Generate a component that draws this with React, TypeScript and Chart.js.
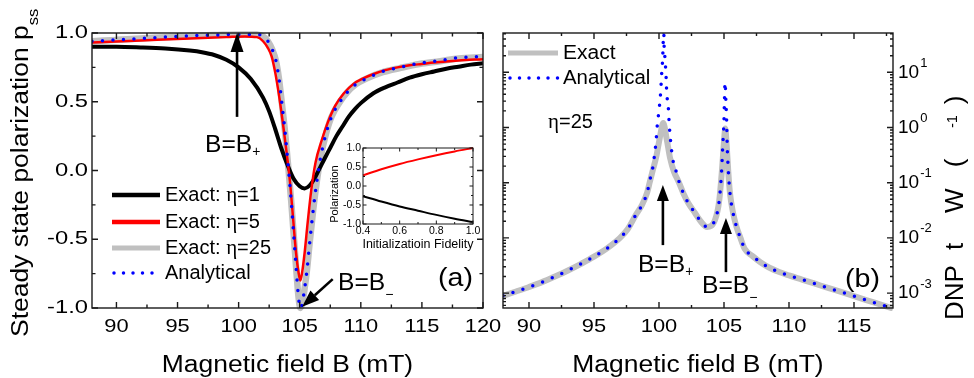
import React, { useEffect, useRef } from 'react';
import { Chart, registerables } from 'chart.js';
Chart.register(...registerables);

const SANS = '"Liberation Sans", Arial, Helvetica, sans-serif';
const SERIF = '"Liberation Serif", "Times New Roman", serif';
const W = 974;
const H = 378;

// ---------------- Panel (a) ----------------
const aXTicks = [90, 95, 100, 105, 110, 115, 120];
const aXMinor = [92.5, 97.5, 102.5, 107.5, 112.5, 117.5];
const aYTicks = [-1, -0.5, 0, 0.5, 1];
const aYTickLabels = ['-1.0', '-0.5', '0.0', '0.5', '1.0'];
const aYMinor = [-0.75, -0.25, 0.25, 0.75];

const eta1B = [88, 90, 92, 94, 96, 97, 98, 99, 100, 101, 102, 102.5, 103, 103.5, 104, 104.5, 105, 105.4, 105.8, 106.2, 106.6, 107, 107.5, 108, 108.5, 109, 109.5, 110, 111, 112, 113, 114, 115, 116, 117, 118, 119, 120];
const eta1P = [0.90, 0.90, 0.895, 0.887, 0.872, 0.86, 0.84, 0.805, 0.75, 0.665, 0.53, 0.43, 0.30, 0.16, 0.04, -0.06, -0.115, -0.13, -0.11, -0.06, 0.01, 0.08, 0.165, 0.25, 0.32, 0.39, 0.445, 0.49, 0.56, 0.605, 0.64, 0.675, 0.70, 0.72, 0.74, 0.755, 0.77, 0.78];

const eta5B = [88, 92, 96, 99, 100.5, 101.5, 102, 102.4, 102.7, 103, 103.3, 103.6, 103.9, 104.2, 104.45, 104.7, 104.9, 105.05, 105.2, 105.4, 105.65, 105.95, 106.3, 106.8, 107.3, 107.9, 108.6, 109.4, 110.2, 111, 112, 113, 114, 115, 116, 118, 120];
const eta5P = [0.93, 0.945, 0.96, 0.97, 0.975, 0.97, 0.94, 0.89, 0.83, 0.71, 0.55, 0.36, 0.15, -0.08, -0.34, -0.6, -0.74, -0.80, -0.74, -0.6, -0.38, -0.14, 0.06, 0.22, 0.35, 0.47, 0.56, 0.63, 0.67, 0.70, 0.73, 0.75, 0.765, 0.775, 0.785, 0.80, 0.81];

const eta25B = [88, 90, 92, 94, 96, 98, 100, 101.5, 102, 102.4, 102.75, 103.05, 103.3, 103.55, 103.8, 104.05, 104.3, 104.5, 104.7, 104.9, 105.05, 105.2, 105.4, 105.6, 105.8, 106.1, 106.4, 106.7, 107.1, 107.6, 108.3, 108.9, 109.5, 110.5, 111.8, 113.2, 114.8, 116.5, 118, 120];
const eta25P = [0.94, 0.95, 0.96, 0.97, 0.98, 0.985, 0.99, 0.99, 0.975, 0.94, 0.88, 0.80, 0.67, 0.48, 0.28, 0.04, -0.22, -0.46, -0.70, -0.92, -1.0, -0.97, -0.86, -0.72, -0.54, -0.29, -0.08, 0.09, 0.25, 0.39, 0.50, 0.57, 0.62, 0.67, 0.715, 0.745, 0.775, 0.795, 0.815, 0.825];

const anaAB = [88, 90, 92, 94, 96, 98, 100, 101.5, 102, 102.4, 102.75, 103.05, 103.3, 103.55, 103.8, 104.05, 104.3, 104.5, 104.7, 104.9, 105.05, 105.2, 105.4, 105.6, 105.8, 106.1, 106.4, 106.7, 107.1, 107.6, 108.3, 108.9, 109.5, 110.5, 111.8, 113.2, 114.8, 116.5, 118, 120];
const anaAP = [0.94, 0.95, 0.96, 0.97, 0.98, 0.985, 0.99, 0.99, 0.975, 0.94, 0.88, 0.80, 0.67, 0.48, 0.28, 0.04, -0.22, -0.46, -0.70, -0.92, -1.0, -0.97, -0.86, -0.72, -0.54, -0.29, -0.08, 0.09, 0.25, 0.39, 0.50, 0.57, 0.62, 0.67, 0.72, 0.75, 0.78, 0.80, 0.82, 0.83];

// inset of panel (a)
const insetF = [0.4, 0.5, 0.6, 0.7, 0.8, 0.9, 1.0];
const insetUp = [0.28, 0.44, 0.58, 0.70, 0.81, 0.91, 1.0];
const insetDown = [-0.27, -0.41, -0.54, -0.65, -0.76, -0.86, -0.95];
const insetXTicks = [0.4, 0.6, 0.8, 1.0];
const insetXLabels = ['0.4', '0.6', '0.8', '1.0'];
const insetXMinor = [0.5, 0.7, 0.9];
const insetYTicks = [-1, -0.5, 0, 0.5, 1];
const insetYLabels = ['-1.0', '-0.5', '0.0', '0.5', '1.0'];
const insetYMinor = [-0.75, -0.25, 0.25, 0.75];

// ---------------- Panel (b) ----------------
const bXTicks = [90, 95, 100, 105, 110, 115];
const bXMinor = [92.5, 97.5, 102.5, 107.5, 112.5, 117.5];
const bYTicks = [0.001, 0.01, 0.1, 1, 10];
const bYExp = ['-3', '-2', '-1', '0', '1'];
const bDecades = [-4, -3, -2, -1, 0, 1];

const exactBB = [88, 89, 90, 91, 92, 93, 94, 95, 96, 97, 97.6, 98.2, 98.7, 99.1, 99.3, 99.55, 99.8, 100.05, 100.33, 100.6, 100.85, 101.15, 101.5, 101.87, 102.25, 102.77, 103.2, 103.7, 104.3, 104.64, 104.85, 105.0, 105.1, 105.2, 105.33, 105.46, 105.7, 105.95, 106.25, 106.6, 107.2, 107.8, 108.5, 109.2, 110, 111, 112, 113, 114, 115, 116, 117, 118];
const exactBW = [8.91e-4, 1.07e-3, 1.29e-3, 1.58e-3, 2.0e-3, 2.57e-3, 3.39e-3, 4.57e-3, 6.46e-3, 0.01, 0.0145, 0.0257, 0.0398, 0.0676, 0.105, 0.178, 0.302, 0.631, 1.2, 0.603, 0.282, 0.158, 0.105, 0.0646, 0.0427, 0.0282, 0.02, 0.0158, 0.0209, 0.049, 0.178, 0.562, 0.955, 0.501, 0.158, 0.0646, 0.0282, 0.0162, 0.0102, 0.0063, 0.00468, 0.00363, 0.00288, 0.00243, 0.00209, 0.00176, 0.00148, 0.00124, 0.00105, 8.81e-4, 7.41e-4, 6.24e-4, 5.25e-4];

const anaBB = [88, 89, 90, 91, 92, 93, 94, 95, 96, 97, 97.6, 98.2, 98.7, 99.1, 99.3, 99.51, 99.62, 99.77, 99.87, 100.02, 100.13, 100.2, 100.28, 100.33, 100.36, 100.38, 100.46, 100.54, 100.59, 100.72, 100.79, 100.9, 101.05, 101.36, 101.5, 101.87, 102.25, 102.77, 103.2, 103.7, 104.3, 104.64, 104.82, 104.9, 105.0, 105.03, 105.08, 105.15, 105.2, 105.25, 105.33, 105.46, 105.7, 105.95, 106.25, 106.6, 107.2, 107.8, 108.5, 109.2, 110, 111, 112, 113, 114, 115, 116, 117, 118];
const anaBW = [8.91e-4, 1.07e-3, 1.29e-3, 1.58e-3, 2.0e-3, 2.57e-3, 3.39e-3, 4.57e-3, 6.46e-3, 0.01, 0.0145, 0.0257, 0.0398, 0.0676, 0.112, 0.182, 0.275, 0.55, 1.12, 2.24, 4.47, 8.9, 17.8, 41.7, 120, 41.7, 17.8, 8.9, 4.47, 2.24, 1.12, 0.55, 0.275, 0.148, 0.112, 0.0646, 0.0427, 0.0282, 0.02, 0.0158, 0.0209, 0.049, 0.17, 0.447, 1.38, 2.75, 6.5, 2.75, 1.38, 0.447, 0.17, 0.0646, 0.0282, 0.0162, 0.0102, 0.0063, 0.00468, 0.00363, 0.00288, 0.00243, 0.00209, 0.00176, 0.00148, 0.00124, 0.00105, 8.81e-4, 7.41e-4, 6.24e-4, 5.25e-4];

// ---------------- helpers ----------------
const pts = (xs: number[], ys: number[]) => xs.map((x, i) => ({ x, y: ys[i] }));

const BLUE = '#0000ff';
const GRAY = '#c0c0c0';
const RED = '#ff0000';
const dotted = {
  borderColor: BLUE,
  borderWidth: 3.5,
  borderDash: [0, 10.5],
  borderCapStyle: 'round' as const,
};

type Run = { t: string; size: number; font?: string; dy?: number; sx?: number; gap?: number };

function drawRuns(
  ctx: CanvasRenderingContext2D,
  items: Run[],
  x: number,
  y: number,
  align: 'left' | 'center' | 'right' = 'left',
  baseline: CanvasTextBaseline = 'alphabetic',
  rot = 0,
) {
  ctx.save();
  ctx.translate(x, y);
  if (rot) ctx.rotate(rot);
  ctx.textBaseline = baseline;
  ctx.textAlign = 'left';
  ctx.fillStyle = '#000';
  const widths = items.map((it) => {
    ctx.font = `${it.size}px ${it.font || SANS}`;
    return ctx.measureText(it.t).width * (it.sx ?? 1) + (it.gap || 0);
  });
  const total = widths.reduce((a, b) => a + b, 0);
  let cx = align === 'left' ? 0 : align === 'center' ? -total / 2 : -total;
  items.forEach((it, i) => {
    ctx.save();
    ctx.translate(cx, it.dy || 0);
    ctx.scale(it.sx ?? 1, 1);
    ctx.font = `${it.size}px ${it.font || SANS}`;
    ctx.fillText(it.t, 0, 0);
    ctx.restore();
    cx += widths[i];
  });
  ctx.restore();
}

function arrow(ctx: CanvasRenderingContext2D, x1: number, y1: number, x2: number, y2: number, headLen: number, headW: number, lw: number) {
  const ang = Math.atan2(y2 - y1, x2 - x1);
  const bx = x2 - headLen * Math.cos(ang);
  const by = y2 - headLen * Math.sin(ang);
  ctx.save();
  ctx.strokeStyle = '#000';
  ctx.fillStyle = '#000';
  ctx.lineWidth = lw;
  ctx.beginPath();
  ctx.moveTo(x1, y1);
  ctx.lineTo(bx, by);
  ctx.stroke();
  ctx.beginPath();
  ctx.moveTo(x2, y2);
  ctx.lineTo(bx + (headW / 2) * Math.sin(ang), by - (headW / 2) * Math.cos(ang));
  ctx.lineTo(bx - (headW / 2) * Math.sin(ang), by + (headW / 2) * Math.cos(ang));
  ctx.closePath();
  ctx.fill();
  ctx.restore();
}

function frame(chart: any, xMaj: number[], xMin: number[], yMaj: number[], yMin: number[], majLen: number, minLen: number, lw: number) {
  const { ctx, chartArea: ca, scales } = chart;
  const sx = scales.x;
  const sy = scales.y;
  ctx.save();
  ctx.strokeStyle = '#1a1a1a';
  ctx.lineWidth = lw;
  ctx.beginPath();
  const xs: [number[], number][] = [[xMaj, majLen], [xMin, minLen]];
  xs.forEach(([vals, len]) => {
    vals.forEach((v) => {
      const p = sx.getPixelForValue(v);
      ctx.moveTo(p, ca.bottom);
      ctx.lineTo(p, ca.bottom - len);
      ctx.moveTo(p, ca.top);
      ctx.lineTo(p, ca.top + len);
    });
  });
  const ys: [number[], number][] = [[yMaj, majLen], [yMin, minLen]];
  ys.forEach(([vals, len]) => {
    vals.forEach((v) => {
      const p = sy.getPixelForValue(v);
      ctx.moveTo(ca.left, p);
      ctx.lineTo(ca.left + len, p);
      ctx.moveTo(ca.right, p);
      ctx.lineTo(ca.right - len, p);
    });
  });
  ctx.stroke();
  ctx.strokeRect(ca.left, ca.top, ca.right - ca.left, ca.bottom - ca.top);
  ctx.restore();
}

function legendLine(ctx: CanvasRenderingContext2D, x1: number, x2: number, y: number, color: string, width: number, dots = false) {
  ctx.save();
  ctx.strokeStyle = color;
  ctx.lineWidth = width;
  if (dots) {
    ctx.setLineDash([0, 9.5]);
    ctx.lineCap = 'round';
  }
  ctx.beginPath();
  ctx.moveTo(x1, y);
  ctx.lineTo(x2, y);
  ctx.stroke();
  ctx.restore();
}

const baseOptions = (padding: any, xMin: number, xMax: number, y: any) => ({
  responsive: false,
  animation: false as const,
  devicePixelRatio: 1,
  events: [] as any[],
  layout: { padding },
  plugins: { legend: { display: false }, tooltip: { enabled: false } },
  elements: {
    point: { radius: 0 },
    line: { cubicInterpolationMode: 'monotone' as const, tension: 0.3, fill: false },
  },
  scales: {
    x: { type: 'linear' as const, display: false, min: xMin, max: xMax },
    y: { display: false, ...y },
  },
});

export default function App() {
  const aRef = useRef<HTMLCanvasElement>(null);
  const bRef = useRef<HTMLCanvasElement>(null);
  const iRef = useRef<HTMLCanvasElement>(null);

  useEffect(() => {
    const charts: Chart[] = [];

    // ---------- Panel (a) ----------
    const clipA = { left: 0, top: 4, right: 0, bottom: 4 };
    charts.push(
      new Chart(aRef.current as HTMLCanvasElement, {
        type: 'line',
        data: {
          datasets: [
            { data: pts(anaAB, anaAP), ...dotted, clip: clipA },
            { data: pts(eta5B, eta5P), borderColor: RED, borderWidth: 2.5, clip: clipA },
            { data: pts(eta1B, eta1P), borderColor: '#000', borderWidth: 4, clip: clipA },
            { data: pts(eta25B, eta25P), borderColor: GRAY, borderWidth: 6.5, clip: clipA },
          ] as any,
        },
        options: baseOptions({ left: 92, top: 33, right: W - 483, bottom: H - 308 }, 88, 120, {
          type: 'linear',
          min: -1,
          max: 1,
        }) as any,
        plugins: [
          {
            id: 'decoA',
            afterDatasetsDraw(chart: any) {
              const { ctx, chartArea: ca, scales } = chart;
              const sx = scales.x;
              const sy = scales.y;
              frame(chart, aXTicks, aXMinor, aYTicks, aYMinor, 6, 3.5, 1.4);
              aXTicks.forEach((v) =>
                drawRuns(ctx, [{ t: String(v), size: 19, sx: 1.15 }], sx.getPixelForValue(v), ca.bottom + 19, 'center', 'middle'),
              );
              aYTicks.forEach((v, i) =>
                drawRuns(ctx, [{ t: aYTickLabels[i], size: 19, sx: 1.25 }], ca.left - 4, sy.getPixelForValue(v), 'right', 'middle'),
              );
              drawRuns(ctx, [{ t: 'Magnetic field B (mT)', size: 23, sx: 1.15 }], (ca.left + ca.right) / 2, 372, 'center');
              drawRuns(
                ctx,
                [
                  { t: 'Steady state polarization p', size: 23, sx: 1.15 },
                  { t: 'ss', size: 15, sx: 1.1, dy: 10 },
                ],
                28,
                337,
                'left',
                'alphabetic',
                -Math.PI / 2,
              );
              // legend
              const lx1 = ca.left + 20;
              const lx2 = ca.left + 68;
              const tx = ca.left + 73;
              const rows = [ca.top + 162, ca.top + 189, ca.top + 215, ca.top + 240];
              legendLine(ctx, lx1, lx2, rows[0], '#000', 4.5);
              legendLine(ctx, lx1, lx2, rows[1], RED, 4.5);
              legendLine(ctx, lx1, lx2, rows[2], GRAY, 5);
              legendLine(ctx, lx1 + 2, lx2, rows[3], BLUE, 3.5, true);
              const etaRun = (n: string): Run[] => [
                { t: 'Exact: ', size: 20 },
                { t: 'η', size: 21, font: SERIF },
                { t: '=' + n, size: 20 },
              ];
              drawRuns(ctx, etaRun('1'), tx, rows[0], 'left', 'middle');
              drawRuns(ctx, etaRun('5'), tx, rows[1], 'left', 'middle');
              drawRuns(ctx, etaRun('25'), tx, rows[2], 'left', 'middle');
              drawRuns(ctx, [{ t: 'Analytical', size: 20 }], tx, rows[3], 'left', 'middle');
              // annotations
              const ax = sx.getPixelForValue(99.87);
              arrow(ctx, ax, sy.getPixelForValue(0.39), ax, sy.getPixelForValue(1.0), 19, 13, 2.6);
              drawRuns(
                ctx,
                [{ t: 'B=B', size: 23, sx: 1.07 }, { t: '+', size: 14, dy: 4 }],
                sx.getPixelForValue(97.25),
                sy.getPixelForValue(0.135),
                'left',
              );
              arrow(
                ctx,
                sx.getPixelForValue(107.7),
                sy.getPixelForValue(-0.79),
                sx.getPixelForValue(105.2),
                sy.getPixelForValue(-0.99),
                17,
                13,
                2.6,
              );
              drawRuns(
                ctx,
                [{ t: 'B=B', size: 23, sx: 1.07 }, { t: '−', size: 14, dy: 9 }],
                sx.getPixelForValue(108.13),
                sy.getPixelForValue(-0.869),
                'left',
              );
              drawRuns(ctx, [{ t: '(a)', size: 26, sx: 1.1 }], ca.right - 10, ca.bottom - 22, 'right');
            },
          },
        ],
      }),
    );

    // ---------- Inset ----------
    const clipI = { left: 2, top: 2, right: 2, bottom: 2 };
    charts.push(
      new Chart(iRef.current as HTMLCanvasElement, {
        type: 'line',
        data: {
          datasets: [
            { data: pts(insetF, insetUp), borderColor: RED, borderWidth: 2, clip: clipI },
            { data: pts(insetF, insetDown), borderColor: '#000', borderWidth: 2, clip: clipI },
          ] as any,
        },
        options: baseOptions({ left: 363, top: 148, right: W - 473, bottom: H - 224 }, 0.4, 1.0, {
          type: 'linear',
          min: -1,
          max: 1,
        }) as any,
        plugins: [
          {
            id: 'decoI',
            afterDatasetsDraw(chart: any) {
              const { ctx, chartArea: ca, scales } = chart;
              frame(chart, insetXTicks, insetXMinor, insetYTicks, insetYMinor, 3.5, 2, 1);
              insetXTicks.forEach((v, i) =>
                drawRuns(ctx, [{ t: insetXLabels[i], size: 10.5 }], scales.x.getPixelForValue(v), ca.bottom + 7, 'center', 'middle'),
              );
              insetYTicks.forEach((v, i) =>
                drawRuns(ctx, [{ t: insetYLabels[i], size: 10.5 }], ca.left - 2, scales.y.getPixelForValue(v), 'right', 'middle'),
              );
              drawRuns(ctx, [{ t: 'Initializatioin Fidelity', size: 12.5 }], (ca.left + ca.right) / 2, ca.bottom + 24, 'center');
              drawRuns(ctx, [{ t: 'Polarization', size: 11 }], 338, 194, 'center', 'alphabetic', -Math.PI / 2);
            },
          },
        ],
      }),
    );

    // ---------- Panel (b) ----------
    const clipB = { left: 0, top: 0, right: 0, bottom: 3 };
    const yMinB = 5.37e-4;
    const yMaxB = 51.5;
    const bMinor: number[] = [];
    bDecades.forEach((d) => {
      for (let k = 2; k <= 9; k++) {
        const v = k * Math.pow(10, d);
        if (v > yMinB && v < yMaxB) bMinor.push(v);
      }
    });
    charts.push(
      new Chart(bRef.current as HTMLCanvasElement, {
        type: 'line',
        data: {
          datasets: [
            { data: pts(anaBB, anaBW), ...dotted, clip: clipB },
            { data: pts(exactBB, exactBW), borderColor: GRAY, borderWidth: 6, clip: clipB },
          ] as any,
        },
        options: baseOptions({ left: 503, top: 33, right: W - 893, bottom: H - 308 }, 88, 118, {
          type: 'logarithmic',
          min: yMinB,
          max: yMaxB,
        }) as any,
        plugins: [
          {
            id: 'decoB',
            afterDatasetsDraw(chart: any) {
              const { ctx, chartArea: ca, scales } = chart;
              const sx = scales.x;
              const sy = scales.y;
              frame(chart, bXTicks, bXMinor, bYTicks, bMinor, 6, 3, 1.4);
              bXTicks.forEach((v) =>
                drawRuns(ctx, [{ t: String(v), size: 19, sx: 1.15 }], sx.getPixelForValue(v), ca.bottom + 19, 'center', 'middle'),
              );
              bYTicks.forEach((v, i) =>
                drawRuns(
                  ctx,
                  [
                    { t: '10', size: 19, gap: 1 },
                    { t: bYExp[i], size: 13, dy: -9 },
                  ],
                  ca.right + 5,
                  sy.getPixelForValue(v),
                  'left',
                  'middle',
                ),
              );
              drawRuns(ctx, [{ t: 'Magnetic field B (mT)', size: 23, sx: 1.15 }], (ca.left + ca.right) / 2, 372, 'center');
              drawRuns(
                ctx,
                [
                  { t: 'DNP', size: 26, gap: 15 },
                  { t: 't', size: 26, gap: 30 },
                  { t: 'W', size: 26, gap: 21 },
                  { t: '(', size: 26, gap: 31 },
                  { t: '-1', size: 14, dy: -6, gap: 11 },
                  { t: ')', size: 26 },
                ],
                963,
                320,
                'left',
                'alphabetic',
                -Math.PI / 2,
              );
              // legend
              legendLine(ctx, ca.left + 5, ca.left + 55, ca.top + 20, GRAY, 5);
              legendLine(ctx, ca.left + 7, ca.left + 55, ca.top + 45, BLUE, 3.5, true);
              drawRuns(ctx, [{ t: 'Exact', size: 20, sx: 1.05 }], ca.left + 60, ca.top + 20, 'left', 'middle');
              drawRuns(ctx, [{ t: 'Analytical', size: 20, sx: 1.02 }], ca.left + 60, ca.top + 45, 'left', 'middle');
              drawRuns(
                ctx,
                [
                  { t: 'η', size: 21, font: SERIF },
                  { t: '=25', size: 20 },
                ],
                ca.left + 45,
                ca.top + 89,
                'left',
                'middle',
              );
              // annotations
              const a1 = sx.getPixelForValue(100.3);
              arrow(ctx, a1, sy.getPixelForValue(0.0074), a1, sy.getPixelForValue(0.0912), 16, 12, 2.6);
              const a2 = sx.getPixelForValue(105.15);
              arrow(ctx, a2, sy.getPixelForValue(0.0024), a2, sy.getPixelForValue(0.0229), 16, 12, 2.6);
              drawRuns(
                ctx,
                [{ t: 'B=B', size: 23, sx: 1.07 }, { t: '+', size: 14, dy: 4 }],
                sx.getPixelForValue(98.38),
                sy.getPixelForValue(0.00241),
                'left',
              );
              drawRuns(
                ctx,
                [{ t: 'B=B', size: 23, sx: 1.07 }, { t: '−', size: 14, dy: 9 }],
                sx.getPixelForValue(103.31),
                sy.getPixelForValue(0.001),
                'left',
              );
              drawRuns(ctx, [{ t: '(b)', size: 26, sx: 1.1 }], ca.right - 13, ca.bottom - 21, 'right');
            },
          },
        ],
      }),
    );

    return () => charts.forEach((c) => c.destroy());
  }, []);

  const cs: React.CSSProperties = { position: 'absolute', left: 0, top: 0, width: W, height: H };
  return (
    <div style={{ position: 'absolute', left: 0, top: 0, width: W, height: H, background: '#fff' }}>
      <canvas ref={aRef} width={W} height={H} style={cs} />
      <canvas ref={bRef} width={W} height={H} style={cs} />
      <canvas ref={iRef} width={W} height={H} style={cs} />
    </div>
  );
}
